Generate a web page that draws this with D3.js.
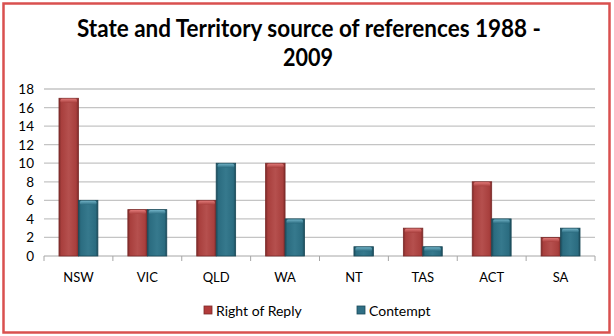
<!DOCTYPE html>
<html>
<head>
<meta charset="utf-8">
<script src="https://cdn.jsdelivr.net/npm/d3@7"></script>
<style>
  html, body { margin: 0; padding: 0; background: #fff; }
  svg { display: block; }
</style>
</head>
<body>
<svg id="chart" width="614" height="336"></svg>
<script>
const categories = ["NSW", "VIC", "QLD", "WA", "NT", "TAS", "ACT", "SA"];
const rightOfReply = [17, 5, 6, 10, 0, 3, 8, 2];
const contempt = [6, 5, 10, 4, 1, 1, 4, 3];
const seriesNames = ["Right of Reply", "Contempt"];
const yTicks = [0, 2, 4, 6, 8, 10, 12, 14, 16, 18];

const svg = d3.select("#chart");
const W = 614, H = 336;
const font = "Lato, 'Open Sans', sans-serif";

// outer frame
svg.append("rect").attr("x", 3.5).attr("y", 3.5).attr("width", W - 8).attr("height", H - 7)
  .attr("fill", "#fff").attr("stroke", "#d9504f").attr("stroke-width", 2.5);

// title
const title = svg.append("g").attr("font-family", font)
  .attr("font-weight", "bold").attr("font-size", 25).attr("fill", "#000").attr("text-anchor", "middle");
title.append("text").attr("x", 309).attr("y", 37).text("State and Territory source of references 1988 -")
  .attr("textLength", 464).attr("lengthAdjust", "spacingAndGlyphs");
title.append("text").attr("x", 308).attr("y", 66).text("2009")
  .attr("textLength", 50).attr("lengthAdjust", "spacingAndGlyphs");

const m = { left: 44, right: 595, top: 89, bottom: 256 };
const x = d3.scaleBand().domain(categories).range([m.left, m.right]).paddingInner(0).paddingOuter(0);
const y = d3.scaleLinear().domain([0, 18]).range([m.bottom, m.top]);
const inner = d3.scaleBand().domain(seriesNames).range([0, x.bandwidth()]).paddingOuter(0.77).paddingInner(0);

// gradients for bars
const defs = svg.append("defs");
const palettes = {
  "Right of Reply": { edge: "#7c2a29", mid: "#a83f3d", light: "#b5504e", cap: "#e07877" },
  "Contempt": { edge: "#1b4a59", mid: "#2b6c80", light: "#36798d", cap: "#6fb0c4" }
};
seriesNames.forEach((s, i) => {
  const p = palettes[s];
  const g = defs.append("linearGradient").attr("id", "grad" + i).attr("x1", 0).attr("x2", 1).attr("y1", 0).attr("y2", 0);
  g.append("stop").attr("offset", "0%").attr("stop-color", p.edge);
  g.append("stop").attr("offset", "12%").attr("stop-color", p.mid);
  g.append("stop").attr("offset", "50%").attr("stop-color", p.light);
  g.append("stop").attr("offset", "88%").attr("stop-color", p.mid);
  g.append("stop").attr("offset", "100%").attr("stop-color", p.edge);
  const c = defs.append("linearGradient").attr("id", "cap" + i).attr("x1", 0).attr("x2", 0).attr("y1", 0).attr("y2", 1);
  c.append("stop").attr("offset", "0%").attr("stop-color", p.cap);
  c.append("stop").attr("offset", "100%").attr("stop-color", p.mid);
});

// gridlines
svg.append("g").selectAll("line").data(yTicks.filter(d => d > 0)).join("line")
  .attr("x1", m.left).attr("x2", m.right)
  .attr("y1", d => y(d)).attr("y2", d => y(d))
  .attr("stroke", "#c4c4c4").attr("stroke-width", 1.3);

// y labels
svg.append("g").selectAll("text").data(yTicks).join("text")
  .attr("x", 34).attr("y", d => y(d) + 5).attr("text-anchor", "end")
  .attr("font-family", font).attr("font-size", 13.5).attr("fill", "#000").text(d => d);

// x axis with ticks on category boundaries
const xAxis = svg.append("g");
xAxis.append("line").attr("x1", m.left).attr("x2", m.right).attr("y1", m.bottom).attr("y2", m.bottom)
  .attr("stroke", "#a6a6a6").attr("stroke-width", 1);
xAxis.selectAll("line.tick").data(categories.map(c => x(c)).concat([m.right])).join("line")
  .attr("class", "tick").attr("x1", d => d).attr("x2", d => d)
  .attr("y1", m.bottom).attr("y2", m.bottom + 5).attr("stroke", "#a6a6a6");
xAxis.selectAll("text").data(categories).join("text")
  .attr("x", d => x(d) + x.bandwidth() / 2).attr("y", 282).attr("text-anchor", "middle")
  .attr("font-family", font).attr("font-size", 13).attr("fill", "#000").text(d => d);

// bars
const series = [rightOfReply, contempt];
series.forEach((vals, i) => {
  const s = seriesNames[i];
  const g = svg.append("g");
  const data = categories.map((c, k) => ({ c, v: vals[k] })).filter(d => d.v > 0);
  g.selectAll("rect.body").data(data).join("rect").attr("class", "body")
    .attr("x", d => x(d.c) + inner(s)).attr("width", inner.bandwidth())
    .attr("y", d => y(d.v)).attr("height", d => y(0) - y(d.v))
    .attr("fill", `url(#grad${i})`).attr("stroke", palettes[s].edge).attr("stroke-width", 0.8);
  g.selectAll("rect.cap").data(data).join("rect").attr("class", "cap")
    .attr("x", d => x(d.c) + inner(s) + 1.5).attr("width", inner.bandwidth() - 3)
    .attr("y", d => y(d.v) + 0.5).attr("height", 4).attr("rx", 1.5)
    .attr("fill", `url(#cap${i})`);
});

// legend
const legend = svg.append("g");
const legendItems = [
  { name: seriesNames[0], x: 204, color: "#b23b3a", border: "#7c2a29" },
  { name: seriesNames[1], x: 357, color: "#2f6f85", border: "#1b4a59" }
];
legendItems.forEach(it => {
  legend.append("rect").attr("x", it.x).attr("y", 306).attr("width", 8).attr("height", 8)
    .attr("fill", it.color).attr("stroke", it.border).attr("stroke-width", 0.8);
  legend.append("text").attr("x", it.x + 12).attr("y", 315.5).attr("font-family", font)
    .attr("font-size", 14).attr("fill", "#000").text(it.name);
});
</script>
</body>
</html>
